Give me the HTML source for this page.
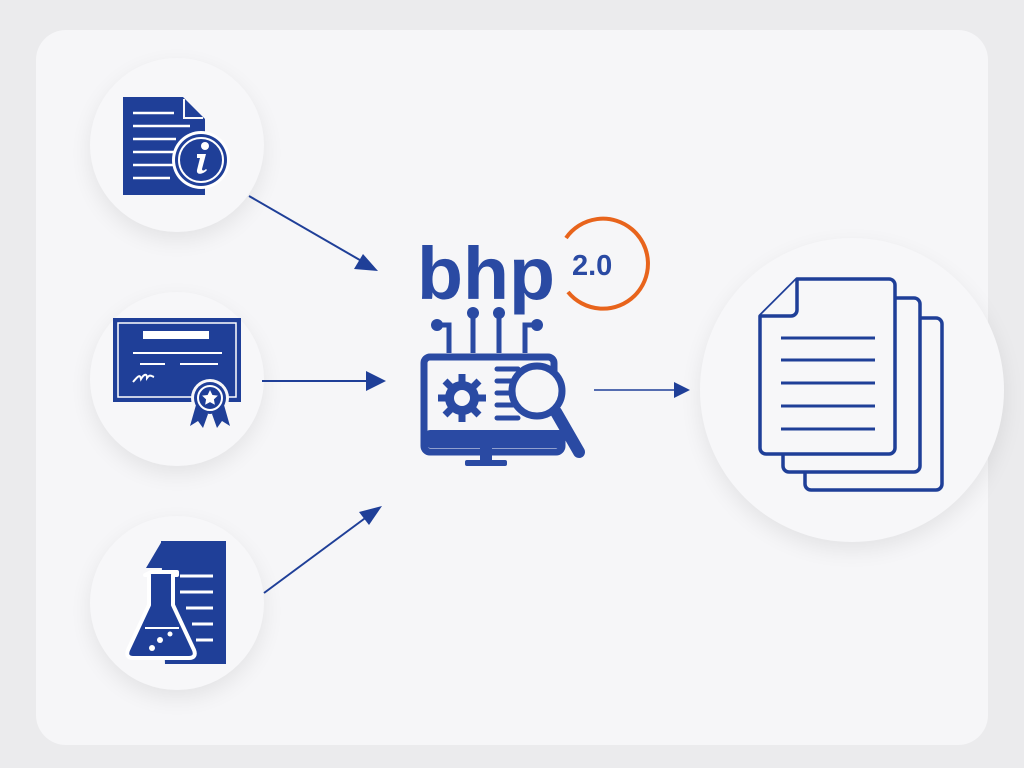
<!DOCTYPE html>
<html><head><style>
body{margin:0;width:1024px;height:768px;background:#ebebed;overflow:hidden;font-family:"Liberation Sans",sans-serif}
.panel{position:absolute;left:36px;top:30px;width:952px;height:715px;background:#f6f6f8;border-radius:30px}
.c{position:absolute;border-radius:50%;background:#f7f7f9;box-shadow:0 8px 22px rgba(0,0,0,0.08)}
svg{position:absolute;left:0;top:0}
</style></head><body>
<div class="panel"></div>
<div class="c" style="left:90px;top:58px;width:174px;height:174px"></div>
<div class="c" style="left:90px;top:292px;width:174px;height:174px"></div>
<div class="c" style="left:90px;top:516px;width:174px;height:174px"></div>
<div class="c" style="left:700px;top:238px;width:304px;height:304px"></div>
<svg width="1024" height="768" viewBox="0 0 1024 768">
<g fill="#1f3f98" stroke="none">
<!-- doc info -->
<path d="M123 97H183L205 119V195H123Z"/>
<path d="M184 99V118H203" fill="none" stroke="#f7f7f9" stroke-width="2"/>
<g stroke="#fff" stroke-width="2.5"><line x1="133" y1="113" x2="174" y2="113"/><line x1="133" y1="126" x2="190" y2="126"/><line x1="133" y1="139" x2="176" y2="139"/><line x1="133" y1="152" x2="176" y2="152"/><line x1="133" y1="165" x2="174" y2="165"/><line x1="133" y1="178" x2="170" y2="178"/></g>
<circle cx="201" cy="160" r="29" fill="#fff"/>
<circle cx="201" cy="160" r="26"/>
<circle cx="201" cy="160" r="22" fill="none" stroke="#fff" stroke-width="2"/>
<circle cx="205" cy="146" r="4" fill="#fff"/>
<path d="M197 154h9l-4 15c0 2 2 2 4 0l1 1c-3 4-11 6-10 0l3-12h-3z" fill="#fff"/>
<!-- certificate -->
<rect x="113" y="318" width="128" height="84"/>
<rect x="118" y="323" width="118" height="74" fill="none" stroke="#fff" stroke-width="1.5"/>
<rect x="143" y="331" width="66" height="8" fill="#fff"/>
<g stroke="#fff" stroke-width="2"><line x1="133" y1="353" x2="222" y2="353"/><line x1="140" y1="364" x2="165" y2="364"/><line x1="180" y1="364" x2="218" y2="364"/></g>
<path d="M133 382c5-6 7-8 8-3c3-5 6-6 6-1c3-4 4-2 7-1" stroke="#fff" stroke-width="2" fill="none"/>
<circle cx="210" cy="398" r="19" fill="#f7f7f9"/>
<path d="M196 405l-6 21 8-5 5 7 5-14zM224 405l6 21-8-5-5 7-5-14z"/>
<circle cx="210" cy="398" r="16"/>
<circle cx="210" cy="398" r="12" fill="none" stroke="#fff" stroke-width="2"/>
<path d="M210 390l2.4 5 5.5.6-4 3.8 1 5.4-4.9-2.7-4.9 2.7 1-5.4-4-3.8 5.5-.6z" fill="#fff"/>
<!-- lab doc -->
<path d="M161 541H226V664H165Z"/>
<path d="M146 568L162 541V568Z"/>
<g stroke="#fff" stroke-width="3"><line x1="180" y1="576" x2="213" y2="576"/><line x1="180" y1="592" x2="213" y2="592"/><line x1="186" y1="608" x2="213" y2="608"/><line x1="192" y1="624" x2="213" y2="624"/><line x1="196" y1="640" x2="213" y2="640"/></g>
<path d="M151 572h26v3h-4v30l21 45c2 5 0 8-5 8h-56c-5 0-7-3-5-8l21-45v-30h-4z" stroke="#fff" stroke-width="4" stroke-linejoin="round"/>
<path d="M145 628h34" stroke="#fff" stroke-width="2"/>
<circle cx="160" cy="640" r="3" fill="#fff"/><circle cx="170" cy="634" r="2.5" fill="#fff"/><circle cx="152" cy="648" r="3" fill="#fff"/>
</g>
<!-- arrows -->
<g stroke="#1f3f98" stroke-width="2" fill="#1f3f98">
<line x1="249" y1="196" x2="365" y2="263"/><path d="M378 271l-24-2 9-15z" stroke="none"/>
<line x1="262" y1="381" x2="368" y2="381"/><path d="M386 381l-20-10v20z" stroke="none"/>
<line x1="264" y1="593" x2="368" y2="516"/><path d="M382 506l-23 6 10 13z" stroke="none"/>
<line x1="594" y1="390" x2="676" y2="390" stroke-width="1.5"/><path d="M690 390l-16-8v16z" stroke="none"/>
</g>
<!-- logo -->
<text x="417" y="299" font-size="74" font-weight="bold" fill="#2a4aa3" font-family="Liberation Sans,sans-serif" textLength="138" lengthAdjust="spacingAndGlyphs">bhp</text>
<path d="M566 238A45 45 0 1 1 568 292" fill="none" stroke="#e8641c" stroke-width="4"/>
<text x="572" y="275" font-size="29" font-weight="bold" fill="#2a4aa3" font-family="Liberation Sans,sans-serif">2.0</text>
<!-- computer icon -->
<g fill="#2a4aa3" stroke="#2a4aa3">
<g stroke-width="5" fill="none"><path d="M437 325h12v28"/><path d="M473 313v40"/><path d="M499 313v40"/><path d="M537 325h-12v28"/></g>
<circle cx="437" cy="325" r="6" stroke="none"/><circle cx="473" cy="313" r="6" stroke="none"/><circle cx="499" cy="313" r="6" stroke="none"/><circle cx="537" cy="325" r="6" stroke="none"/>
<path d="M430 357h118a6 6 0 0 1 6 6v8M562 430v16a6 6 0 0 1-6 6h-126a6 6 0 0 1-6-6v-83a6 6 0 0 1 6-6" fill="none" stroke-width="7"/>
<rect x="425" y="430" width="140" height="18" rx="5" stroke="none"/>
<rect x="480" y="448" width="12" height="14" stroke="none"/>
<rect x="465" y="460" width="42" height="6" rx="2" stroke="none"/>
<circle cx="462" cy="398" r="17" stroke="none"/>
<g stroke-width="7" stroke-linecap="butt"><line x1="462" y1="374" x2="462" y2="422"/><line x1="438" y1="398" x2="486" y2="398"/><line x1="445" y1="381" x2="479" y2="415"/><line x1="445" y1="415" x2="479" y2="381"/></g>
<circle cx="462" cy="398" r="8" fill="#f6f6f8" stroke="none"/>
<g stroke-width="5" stroke-linecap="round"><line x1="497" y1="369" x2="518" y2="369"/><line x1="497" y1="381" x2="518" y2="381"/><line x1="497" y1="393" x2="518" y2="393"/><line x1="497" y1="405" x2="518" y2="405"/><line x1="497" y1="418" x2="518" y2="418"/></g>
<circle cx="537" cy="391" r="25" fill="#f6f6f8" stroke-width="7"/>
<line x1="556" y1="412" x2="579" y2="452" stroke-width="12" stroke-linecap="round"/>
</g>
<!-- stack of docs -->
<g fill="#f7f7f9" stroke="#1f3f98" stroke-width="3.5" stroke-linejoin="round">
<rect x="805" y="318" width="137" height="172" rx="6"/>
<rect x="783" y="298" width="137" height="174" rx="6"/>
<path d="M797 279H889a6 6 0 0 1 6 6V448a6 6 0 0 1-6 6H766a6 6 0 0 1-6-6V316Z"/>
<path d="M797 279V310a6 6 0 0 1-6 6H760"/>
<g stroke-width="3"><line x1="781" y1="338" x2="875" y2="338"/><line x1="781" y1="360" x2="875" y2="360"/><line x1="781" y1="383" x2="875" y2="383"/><line x1="781" y1="406" x2="875" y2="406"/><line x1="781" y1="429" x2="875" y2="429"/></g>
</g>
</svg>
</body></html>
